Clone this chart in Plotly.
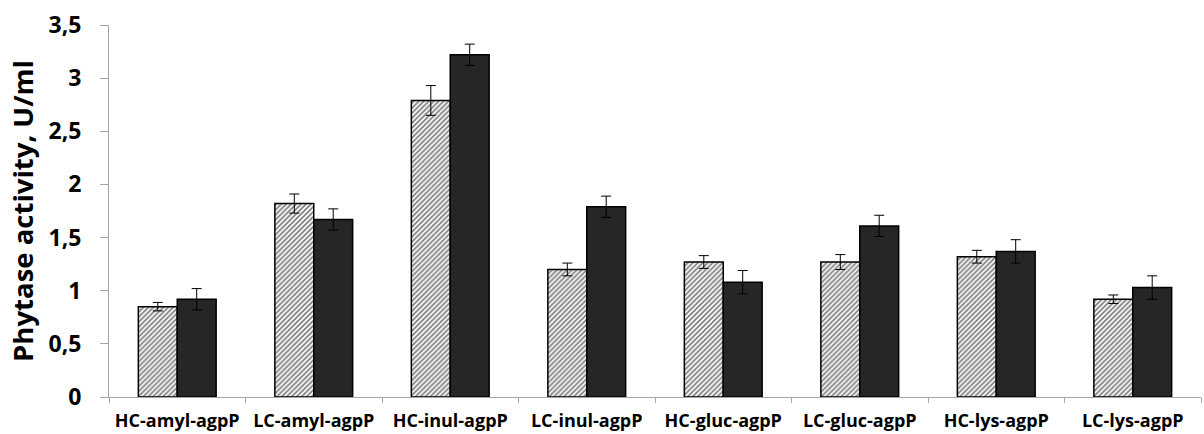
import plotly.graph_objects as go

categories = ["HC-amyl-agpP", "LC-amyl-agpP", "HC-inul-agpP", "LC-inul-agpP",
              "HC-gluc-agpP", "LC-gluc-agpP", "HC-lys-agpP", "LC-lys-agpP"]
series_a = [0.85, 1.82, 2.79, 1.20, 1.27, 1.27, 1.32, 0.92]
errors_a = [0.04, 0.09, 0.14, 0.06, 0.06, 0.07, 0.06, 0.04]
series_b = [0.92, 1.67, 3.22, 1.79, 1.08, 1.61, 1.37, 1.03]
errors_b = [0.10, 0.10, 0.10, 0.10, 0.11, 0.10, 0.11, 0.11]
y_tickvals = [0, 0.5, 1, 1.5, 2, 2.5, 3, 3.5]
y_ticktext = ["0", "0,5", "1", "1,5", "2", "2,5", "3", "3,5"]

fig = go.Figure()
fig.add_trace(go.Bar(
    x=categories, y=series_a,
    marker=dict(color="white", line=dict(color="black", width=1.5),
                pattern=dict(shape="/", fgcolor="black", bgcolor="white", size=3.5, solidity=0.5)),
    error_y=dict(type="data", array=errors_a, color="black", thickness=1, width=5),
    showlegend=False,
))
fig.add_trace(go.Bar(
    x=categories, y=series_b,
    marker=dict(color="#262626", line=dict(color="black", width=1.5)),
    error_y=dict(type="data", array=errors_b, color="black", thickness=1, width=5),
    showlegend=False,
))

fig.update_layout(
    width=1204, height=434,
    margin=dict(l=109, r=3, t=25, b=37),
    paper_bgcolor="white", plot_bgcolor="white",
    barmode="group", bargap=0.43, bargroupgap=0,
    font=dict(family="Open Sans", color="black"),
    xaxis=dict(
        showline=True, linecolor="#a6a6a6", linewidth=1,
        ticks="outside", tickson="boundaries", ticklen=5, tickcolor="#a6a6a6",
        tickfont=dict(size=18, family="Open Sans", weight="bold"),
        ticklabelstandoff=7, automargin=False,
        showgrid=False,
    ),
    yaxis=dict(
        range=[0, 3.5], tickvals=y_tickvals, ticktext=y_ticktext,
        showline=True, linecolor="#a6a6a6", linewidth=1,
        ticks="outside", ticklen=8, tickcolor="#a6a6a6",
        tickfont=dict(size=23, family="Open Sans", weight="bold"),
        ticklabelstandoff=14, automargin=False,
        showgrid=False, zeroline=False,
        title=dict(text="Phytase activity, U/ml", font=dict(size=27.5, family="Open Sans", weight="bold"), standoff=6),
    ),
)

fig.write_html("out.html")
